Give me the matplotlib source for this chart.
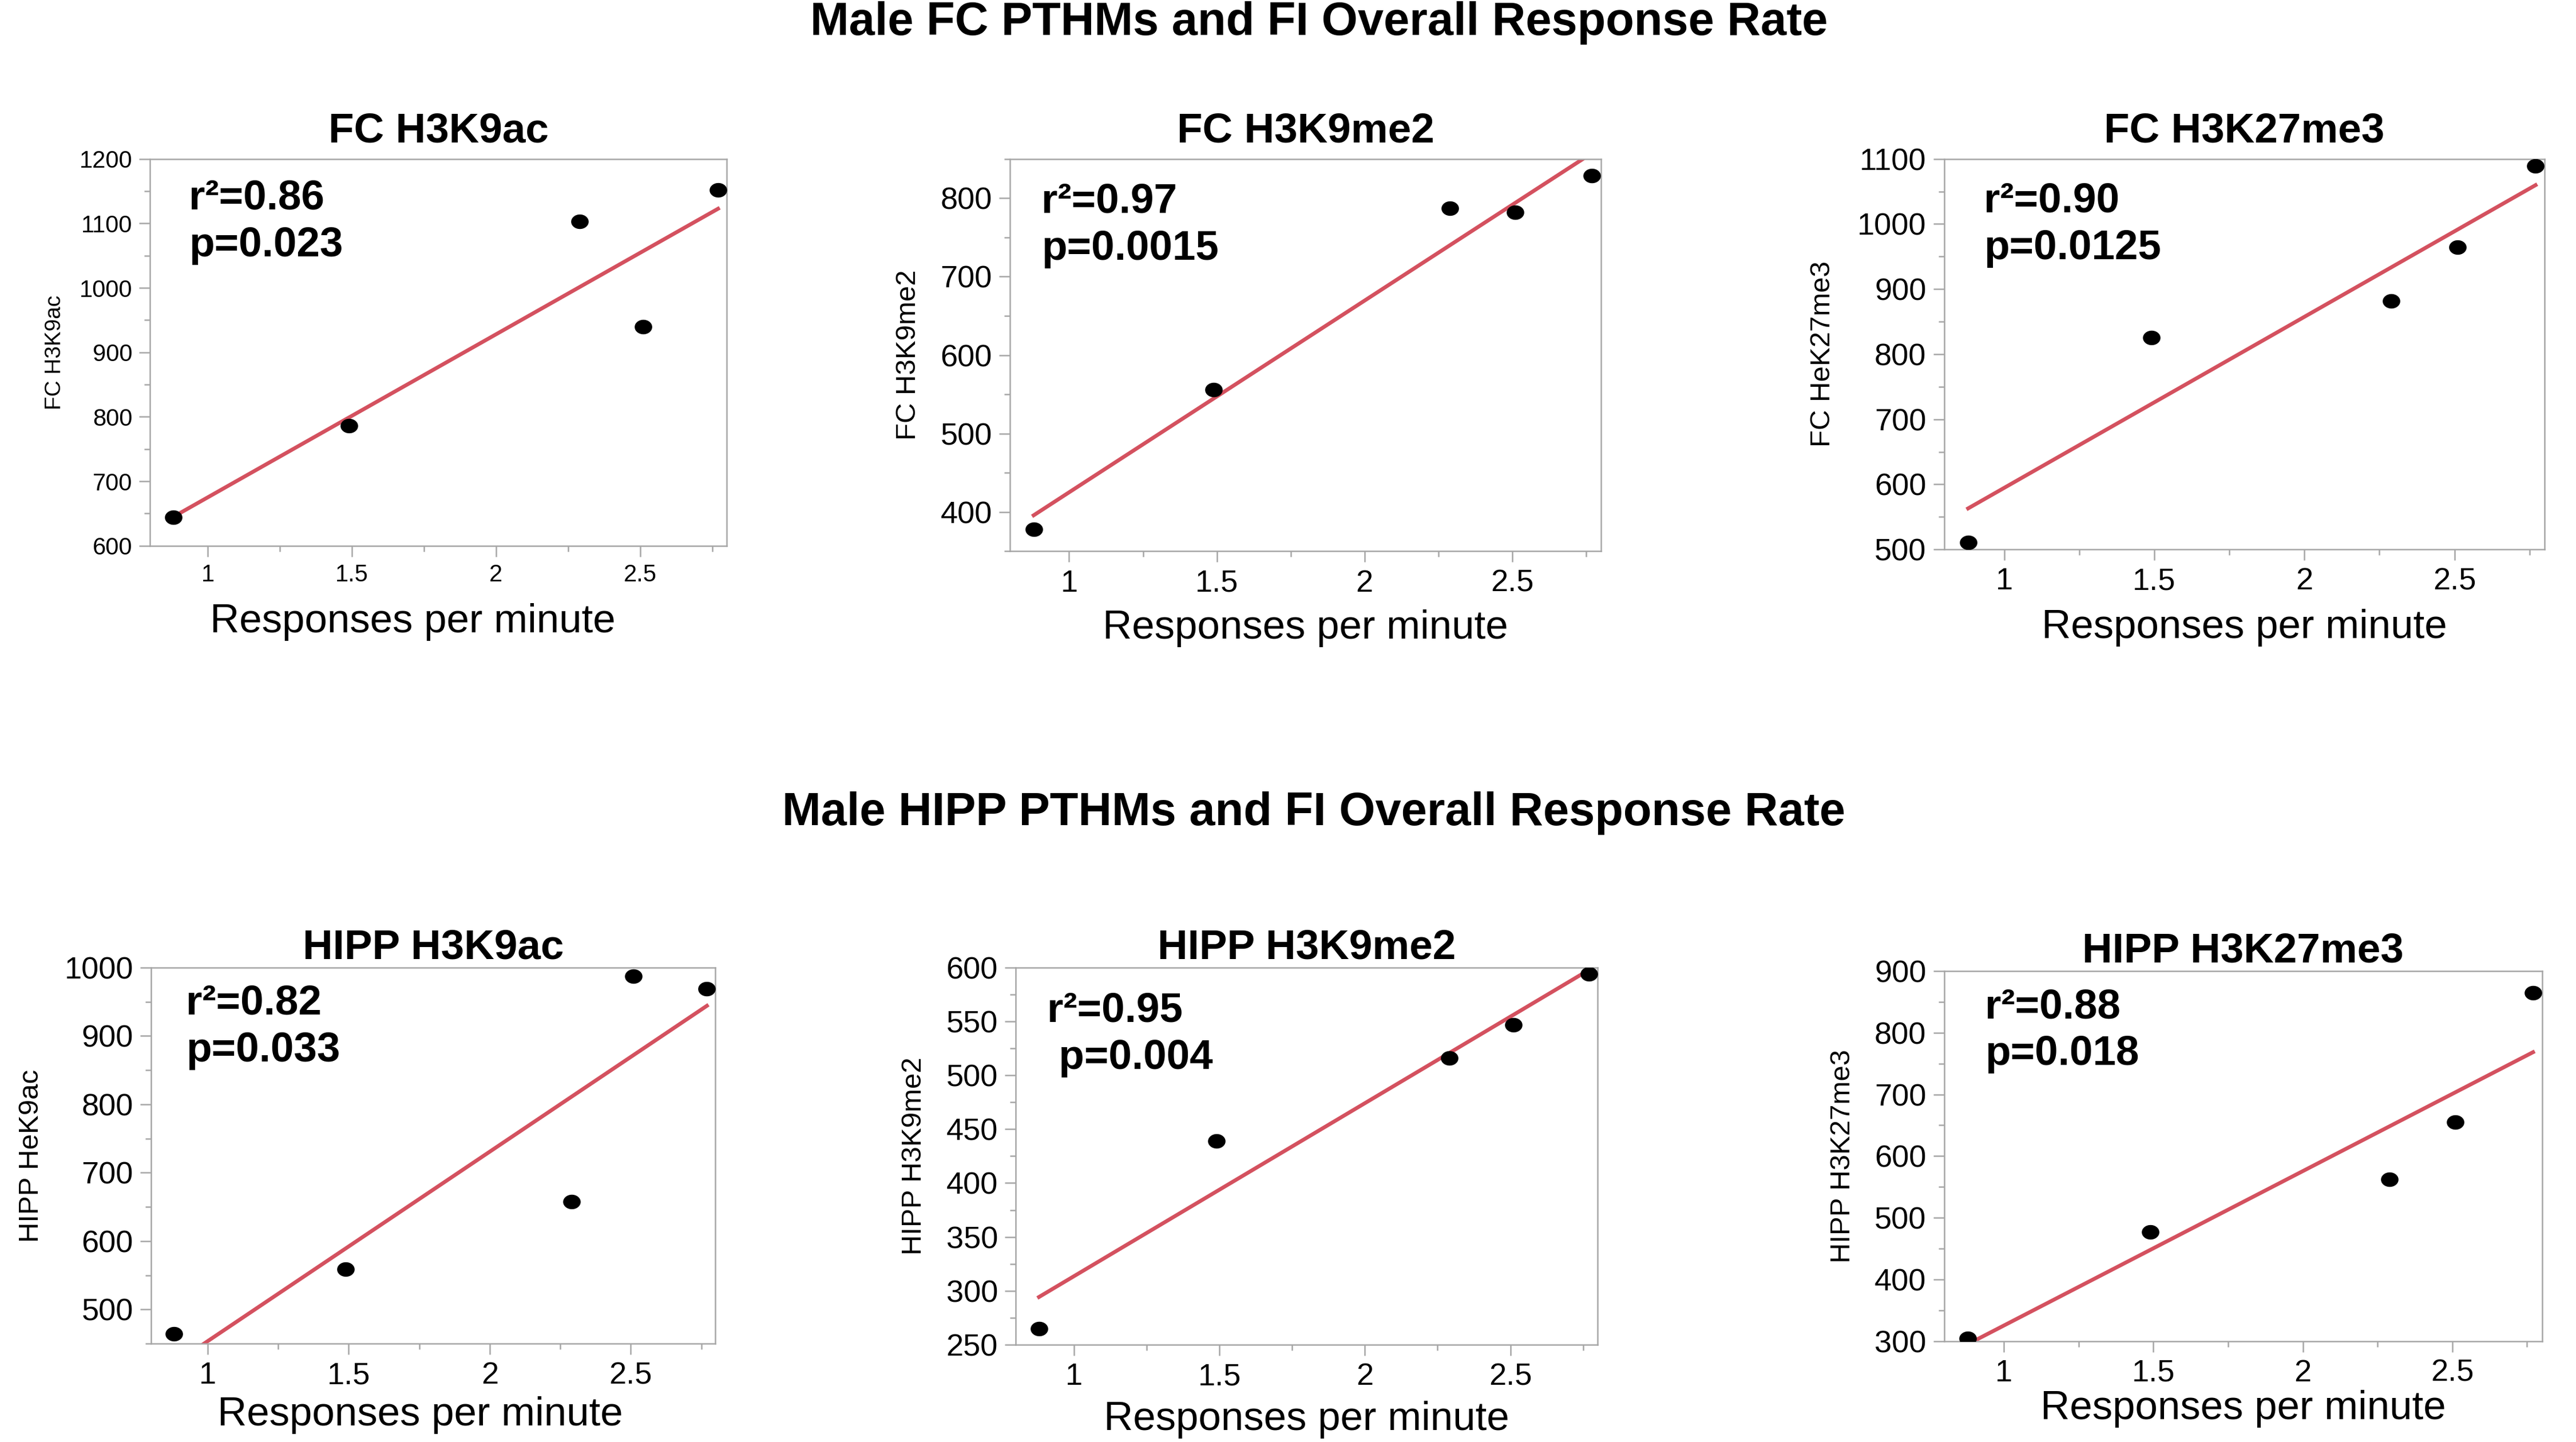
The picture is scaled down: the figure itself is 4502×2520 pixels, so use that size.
import numpy as np
import matplotlib
matplotlib.use("Agg")
import matplotlib.pyplot as plt
from matplotlib.ticker import MultipleLocator
from matplotlib.path import Path

plt.rcParams["font.family"] = ["Liberation Sans", "DejaVu Sans"]

# responses per minute (same five animals in every panel)
resp_rate = [0.88, 1.49, 2.29, 2.51, 2.77]

fc_h3k9ac = [644, 786, 1103, 940, 1152]
fc_h3k9me2 = [378, 556, 787, 782, 829]
fc_h3k27me3 = [511, 825, 882, 964, 1089]
hipp_h3k9ac = [464, 559, 658, 987, 969]
hipp_h3k9me2 = [265, 439, 516, 547, 594]
hipp_h3k27me3 = [304, 477, 562, 655, 865]

titles = ["FC H3K9ac", "FC H3K9me2", "FC H3K27me3",
          "HIPP H3K9ac", "HIPP H3K9me2", "HIPP H3K27me3"]
ylabels = ["FC H3K9ac", "FC H3K9me2", "FC HeK27me3",
           "HIPP HeK9ac", "HIPP H3K9me2", "HIPP H3K27me3"]
stats = ["r²=0.86\np=0.023", "r²=0.97\np=0.0015", "r²=0.90\np=0.0125",
         "r²=0.82\np=0.033", "r²=0.95\n p=0.004", "r²=0.88\np=0.018"]
series = [fc_h3k9ac, fc_h3k9me2, fc_h3k27me3,
          hipp_h3k9ac, hipp_h3k9me2, hipp_h3k27me3]

# layout per panel
boxes = [
    [0.0583, 0.6215, 0.2238, 0.2683],
    [0.3921, 0.6177, 0.2293, 0.2721],
    [0.7547, 0.6190, 0.2331, 0.2708],
    [0.0587, 0.0682, 0.2190, 0.2608],
    [0.3943, 0.0675, 0.2259, 0.2615],
    [0.7547, 0.0700, 0.2321, 0.2566],
]
ylims = [(600, 1200), (350, 850), (500, 1100), (450, 1000), (250, 600), (300, 900)]
ysteps = [100, 100, 100, 100, 50, 100]
tick_fs = [10, 13, 13, 13, 13, 13]
ylab_fs = [9.3, 11.8, 11.8, 11.8, 11.8, 11.8]
ylab_pad = [6, 8, 9, 8.5, 8, 8]
xlab_pad = [7, 5, 5.5, 2.5, 4, 1]
xlab_x = [0.455, 0.5, 0.5, 0.477, 0.5, 0.5]
title_pad = [6.9, 7.1, 7.1, 0.6, 1.0, 3.0]
text_pos = [(0.067, 0.948), (0.053, 0.94), (0.066, 0.942),
            (0.062, 0.956), (0.054, 0.937), (0.068, 0.955)]

spine_col = "#a6a6a6"
line_col = "#d4515f"

# dots in the source are slightly wider than tall
t = np.linspace(0, 2 * np.pi, 60)
dot = Path(np.column_stack([np.cos(t), 0.83 * np.sin(t)]), closed=True)

fig = plt.figure(figsize=(4502 / 300, 2520 / 300), dpi=300)

x = np.array(resp_rate)
for i in range(6):
    ax = fig.add_axes(boxes[i])
    y = np.array(series[i])

    slope, icpt = np.polyfit(x, y, 1)
    xf = np.array([x.min(), x.max()])
    ax.plot(xf, slope * xf + icpt, color=line_col, lw=1.6, zorder=2)
    ax.scatter(x, y, s=54, marker=dot, color="black", zorder=3, linewidths=0)

    ax.set_xlim(0.8, 2.8)
    ax.set_ylim(*ylims[i])
    ax.xaxis.set_major_locator(MultipleLocator(0.5))
    ax.xaxis.set_minor_locator(MultipleLocator(0.25))
    ax.yaxis.set_major_locator(MultipleLocator(ysteps[i]))
    ax.yaxis.set_minor_locator(MultipleLocator(ysteps[i] / 2))
    ax.set_xticks([1, 1.5, 2, 2.5])
    ax.set_xticklabels(["1", "1.5", "2", "2.5"])

    for sp in ax.spines.values():
        sp.set_color(spine_col)
        sp.set_linewidth(0.6)
    ax.tick_params(which="major", length=4.5, width=0.6, color=spine_col,
                   labelsize=tick_fs[i], pad=3, labelcolor="black")
    ax.tick_params(which="minor", length=2.3, width=0.6, color=spine_col)

    ax.set_title(titles[i], fontsize=17.5, fontweight="bold", pad=title_pad[i])
    ax.set_xlabel("Responses per minute", fontsize=17, labelpad=xlab_pad[i])
    ax.xaxis.label.set_x(xlab_x[i])
    ax.set_ylabel(ylabels[i], fontsize=ylab_fs[i], labelpad=ylab_pad[i])
    ax.text(text_pos[i][0], text_pos[i][1], stats[i], transform=ax.transAxes,
            fontsize=17.5, fontweight="bold", va="top", ha="left",
            linespacing=1.27)

fig.text(0.512, 0.984, "Male FC PTHMs and FI Overall Response Rate",
         fontsize=19.5, fontweight="bold", ha="center", va="center")
fig.text(0.510, 0.436, "Male HIPP PTHMs and FI Overall Response Rate",
         fontsize=19.5, fontweight="bold", ha="center", va="center")

fig.savefig("out.png", dpi=300, facecolor="white")
